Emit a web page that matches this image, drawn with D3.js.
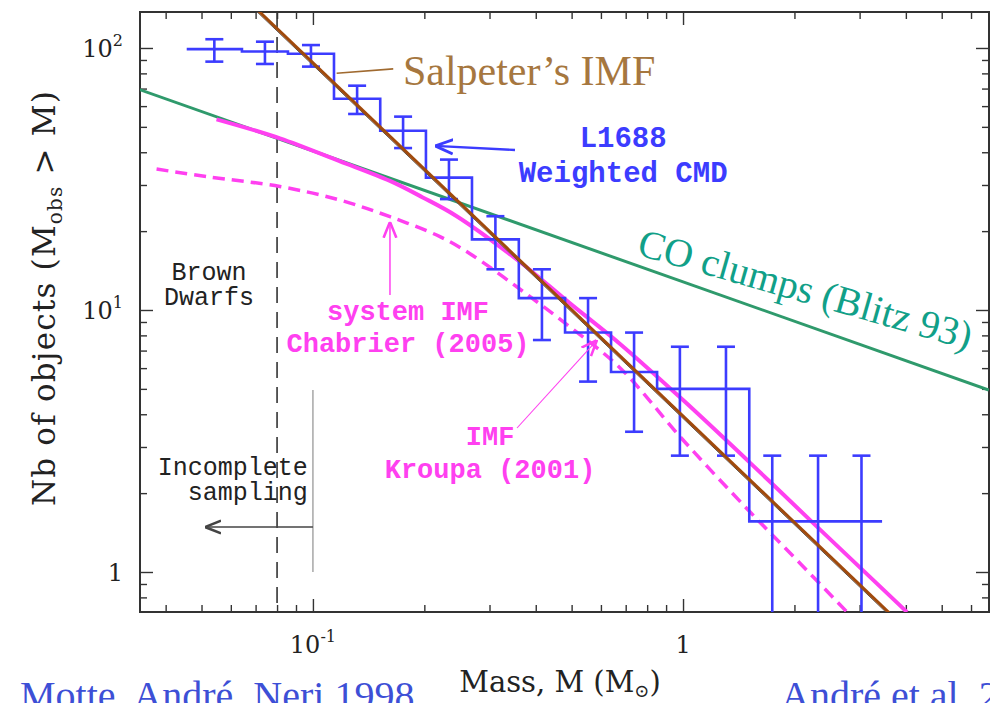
<!DOCTYPE html>
<html><head><meta charset="utf-8">
<script src="https://cdn.jsdelivr.net/npm/d3@7"></script>
<style>body{margin:0;background:#fff} svg{display:block}</style>
</head><body>
<svg id="c" width="990" height="703"></svg>
<script>
// ---------- data ----------
const binLo  = [0.0456, 0.0643, 0.0856, 0.114, 0.152, 0.202, 0.269, 0.360, 0.480, 0.639, 0.851, 1.13, 1.51, 2.01, 2.67];
const binHi  = [0.0643, 0.0856, 0.114, 0.152, 0.202, 0.269, 0.360, 0.480, 0.639, 0.851, 1.13, 1.51, 2.01, 2.67, 3.45];
const counts = [99, 97, 95, 64, 48.3, 32, 18.6, 11.1, 8.2, 5.8, 5.0, 5.0, 1.56, 1.56, 1.56];
const errHi  = [108, 105.7, 102.6, 71.8, 54.7, 37.5, 22.8, 14.3, 11.1, 8.2, 7.24, 7.24, 2.78, 2.78, 2.78];
const errLo  = [88.7, 86.9, 84.9, 56, 41.5, 26.5, 14.3, 7.68, 5.33, 3.43, 2.78, 2.78, 0.34, 0.34, 0.34];

const chabM = [0.0549, 0.0814, 0.118, 0.1615, 0.198, 0.244, 0.3627, 0.495, 0.676, 1.0, 1.518, 2.30, 4.03];
const chabN = [53.4, 45.2, 37.0, 31.1, 26.9, 22.85, 15.25, 10.6, 7.42, 4.53, 2.61, 1.49, 0.703];

const kroM = [0.0378, 0.0516, 0.0814, 0.118, 0.1615, 0.2204, 0.2657, 0.3627, 0.495, 0.676, 1.0, 1.518, 2.07, 2.79];
const kroN = [34.5, 32.3, 29.6, 26.3, 22.7, 19.05, 16.4, 12.0, 8.61, 6.01, 3.19, 1.694, 1.08, 0.698];

const salpM = [0.07, 3.6];
const salpN = [142, 0.70];
const coM = [0.034, 6.7];
const coN = [69.4, 4.95];

const bdMass = 0.08;            // brown dwarf limit
const xMajor = [0.1, 1];
const xMajorLabels = [["10","-1"], ["1",""]];
const yMajor = [1, 10, 100];
const yMajorLabels = [["1",""], ["10","1"], ["10","2"]];

// ---------- layout ----------
const L = 140, R = 989, T = 12, B = 612;
const svg = d3.select("#c");
const x = d3.scaleLog().domain([0.0341, 6.71]).range([L, R]);
const y = d3.scaleLog().domain([0.7036, 137.2]).range([B, T]);

const defs = svg.append("defs");
defs.append("clipPath").attr("id","plot").append("rect")
  .attr("x",L).attr("y",T).attr("width",R-L).attr("height",B-T);
function marker(id, col, sz){
  defs.append("marker").attr("id",id).attr("viewBox","0 0 10 10")
    .attr("refX",10).attr("refY",5).attr("markerUnits","userSpaceOnUse")
    .attr("markerWidth",sz).attr("markerHeight",sz).attr("orient","auto")
    .append("path").attr("d","M0,1 L10,5 L0,9").attr("fill","none")
    .attr("stroke",col).attr("stroke-width",1.6);
}
marker("arG","#444",16);
marker("arB","#3c3cff",18);
marker("arM","#ff40f0",16);

// ---------- axes ----------
const minorX = x.ticks().filter(v => !xMajor.includes(v));
const minorY = y.ticks().filter(v => !yMajor.includes(v));
const axG = svg.append("g").attr("class","axes");
function drawAxis(gen, vals, size, tr){
  const g = axG.append("g").attr("transform",tr)
    .call(gen.tickValues(vals).tickSize(size).tickSizeOuter(0).tickFormat(""));
  g.select(".domain").remove();
  g.selectAll(".tick line").attr("stroke","#333").attr("stroke-width",1.4);
}
drawAxis(d3.axisBottom(x), xMajor, -13, `translate(0,${B})`);
drawAxis(d3.axisBottom(x), minorX, -7, `translate(0,${B})`);
drawAxis(d3.axisTop(x), xMajor, -13, `translate(0,${T})`);
drawAxis(d3.axisTop(x), minorX, -7, `translate(0,${T})`);
drawAxis(d3.axisLeft(y), yMajor, -13, `translate(${L},0)`);
drawAxis(d3.axisLeft(y), minorY, -7, `translate(${L},0)`);
drawAxis(d3.axisRight(y), yMajor, -13, `translate(${R},0)`);
drawAxis(d3.axisRight(y), minorY, -7, `translate(${R},0)`);
axG.append("rect").attr("x",L).attr("y",T).attr("width",R-L).attr("height",B-T)
  .attr("fill","none").attr("stroke","#333").attr("stroke-width",2);

const tickFont = "DejaVu Serif";
xMajor.forEach((v,i)=>{
  const t = svg.append("text").attr("x",x(v)).attr("y",653).attr("text-anchor","middle")
    .attr("font-family",tickFont).attr("font-size",24).attr("fill","#222");
  t.append("tspan").text(xMajorLabels[i][0]);
  if (xMajorLabels[i][1]) t.append("tspan").attr("dy",-11).attr("font-size",16).text(xMajorLabels[i][1]);
});
yMajor.forEach((v,i)=>{
  const t = svg.append("text").attr("x",123).attr("y",y(v)+9).attr("text-anchor","end")
    .attr("font-family",tickFont).attr("font-size",24).attr("fill","#222");
  t.append("tspan").text(yMajorLabels[i][0]);
  if (yMajorLabels[i][1]) t.append("tspan").attr("dy",-11).attr("font-size",16).text(yMajorLabels[i][1]);
});

// axis titles
const xt = svg.append("text").attr("x",560).attr("y",692).attr("text-anchor","middle")
  .attr("font-family",tickFont).attr("font-size",29).attr("fill","#222");
xt.append("tspan").text("Mass, M (M");
xt.append("tspan").attr("dy",5).attr("font-size",18).text("\u2299");
xt.append("tspan").attr("dy",-5).text(")");

const yt = svg.append("text").attr("transform","translate(55,298) rotate(-90)")
  .attr("text-anchor","middle").attr("font-family",tickFont).attr("font-size",31)
  .attr("letter-spacing",1.2).attr("fill","#222");
yt.append("tspan").text("Nb of objects (M");
yt.append("tspan").attr("dy",7).attr("font-size",20).text("obs");
yt.append("tspan").attr("dy",-7).text(" > M)");

// ---------- data marks ----------
const P = svg.append("g").attr("clip-path","url(#plot)");
const line = d3.line().x(d=>x(d[0])).y(d=>y(d[1]));
const smooth = d3.line().x(d=>x(d[0])).y(d=>y(d[1])).curve(d3.curveCatmullRom.alpha(0.5));

// brown dwarf limit (dashed vertical)
P.append("line").attr("x1",x(bdMass)).attr("x2",x(bdMass)).attr("y1",T).attr("y2",B)
  .attr("stroke","#333").attr("stroke-width",1.6).attr("stroke-dasharray","16,9");

// CO clumps
P.append("path").attr("d",line(coM.map((m,i)=>[m,coN[i]])))
  .attr("fill","none").attr("stroke","#2f9a6c").attr("stroke-width",3);

// Kroupa dashed
P.append("path").attr("d",smooth(kroM.map((m,i)=>[m,kroN[i]])))
  .attr("fill","none").attr("stroke","#ff40f0").attr("stroke-width",3.5).attr("stroke-dasharray","12,7");

// Chabrier solid
P.append("path").attr("d",smooth(chabM.map((m,i)=>[m,chabN[i]])))
  .attr("fill","none").attr("stroke","#ff40f0").attr("stroke-width",4);

// histogram
const steps = binLo.flatMap((lo,i)=>[[lo,counts[i]],[binHi[i],counts[i]]]);
P.append("path").attr("d",line(steps)).attr("fill","none")
  .attr("stroke","#3c3cff").attr("stroke-width",2.6);
const eb = P.append("g").attr("stroke","#3c3cff").attr("stroke-width",2.6);
binLo.forEach((lo,i)=>{
  const cx = x(Math.sqrt(lo*binHi[i]));
  eb.append("line").attr("x1",cx).attr("x2",cx).attr("y1",y(errHi[i])).attr("y2",y(errLo[i]));
  [errHi[i], errLo[i]].forEach(v=>{
    eb.append("line").attr("x1",cx-9).attr("x2",cx+9).attr("y1",y(v)).attr("y2",y(v));
  });
});

// Salpeter
const sp = salpM.map((m,i)=>[m,salpN[i]]);
P.append("path").attr("d",line(sp)).attr("transform","translate(-2.5,0)")
  .attr("fill","none").attr("stroke","#555").attr("stroke-width",1);
P.append("path").attr("d",line(sp)).attr("fill","none")
  .attr("stroke","#a04a0c").attr("stroke-width",3);

// ---------- annotations ----------
const A = svg.append("g");
// Salpeter label
A.append("line").attr("x1",x(0.1159)).attr("y1",y(80.1)).attr("x2",x(0.1648)).attr("y2",y(83.2))
  .attr("stroke","#a06a30").attr("stroke-width",1.6);
A.append("text").attr("x",x(0.175)).attr("y",y(72.2)).attr("font-family","Liberation Serif")
  .attr("font-size",42).attr("fill","#a6773f").text("Salpeter\u2019s IMF");

// L1688
A.append("line").attr("x1",x(0.3515)).attr("y1",y(40.8)).attr("x2",x(0.2138)).attr("y2",y(42.3))
  .attr("stroke","#3c3cff").attr("stroke-width",2.4).attr("marker-end","url(#arB)");
const bl = A.append("g").attr("font-family","Liberation Mono").attr("font-weight","bold")
  .attr("font-size",29).attr("fill","#3c3cff").attr("text-anchor","middle");
bl.append("text").attr("x",x(0.689)).attr("y",y(41.9)).text("L1688");
bl.append("text").attr("x",x(0.689)).attr("y",y(30.8)).text("Weighted CMD");

// CO clumps label
A.append("text").attr("transform",`translate(${x(0.745)},${y(16.3)}) rotate(16)`)
  .attr("font-family","Liberation Serif").attr("font-size",40).attr("fill","#11a088")
  .text("CO clumps (Blitz 93)");

// Brown dwarfs / incomplete sampling
const bk = A.append("g").attr("font-family","Liberation Mono").attr("font-size",25).attr("fill","#222");
bk.append("text").attr("x",x(0.0524)).attr("y",y(13.0)).attr("text-anchor","middle").text("Brown");
bk.append("text").attr("x",x(0.0524)).attr("y",y(10.45)).attr("text-anchor","middle").text("Dwarfs");
bk.append("text").attr("x",x(0.0969)).attr("y",y(2.345)).attr("text-anchor","end").text("Incomplete");
bk.append("text").attr("x",x(0.0969)).attr("y",y(1.883)).attr("text-anchor","end").text("sampling");
A.append("line").attr("x1",x(0.1)).attr("x2",x(0.1)).attr("y1",y(4.95)).attr("y2",y(1.0))
  .attr("stroke","#999").attr("stroke-width",1.3);
A.append("line").attr("x1",x(0.1)).attr("x2",x(0.0511)).attr("y1",y(1.485)).attr("y2",y(1.485))
  .attr("stroke","#444").attr("stroke-width",1.5).attr("marker-end","url(#arG)");

// Chabrier / Kroupa labels
const mg = A.append("g").attr("font-family","Liberation Mono").attr("font-weight","bold")
  .attr("font-size",27).attr("fill","#ff40f0").attr("text-anchor","middle");
mg.append("text").attr("x",x(0.1807)).attr("y",y(9.16)).text("system IMF");
mg.append("text").attr("x",x(0.1807)).attr("y",y(6.92)).text("Chabrier (2005)");
mg.append("text").attr("x",x(0.301)).attr("y",y(3.05)).text("IMF");
mg.append("text").attr("x",x(0.301)).attr("y",y(2.285)).text("Kroupa (2001)");
A.append("line").attr("x1",x(0.1615)).attr("x2",x(0.1615)).attr("y1",y(11.4)).attr("y2",y(21.7))
  .attr("stroke","#ff40f0").attr("stroke-width",1.5).attr("marker-end","url(#arM)");
A.append("line").attr("x1",x(0.356)).attr("y1",y(3.545)).attr("x2",x(0.5856)).attr("y2",y(7.68))
  .attr("stroke","#ff40f0").attr("stroke-width",1.1).attr("marker-end","url(#arM)");

// bottom references (cut by the page edge)
const ref = svg.append("g").attr("font-family","Liberation Serif").attr("font-size",40).attr("fill","#3d4fd6");
ref.append("text").attr("x",20).attr("y",709).text("Motte, Andr\u00e9, Neri 1998");
ref.append("text").attr("x",781).attr("y",709).text("Andr\u00e9 et al. 2000");
</script>
</body></html>
